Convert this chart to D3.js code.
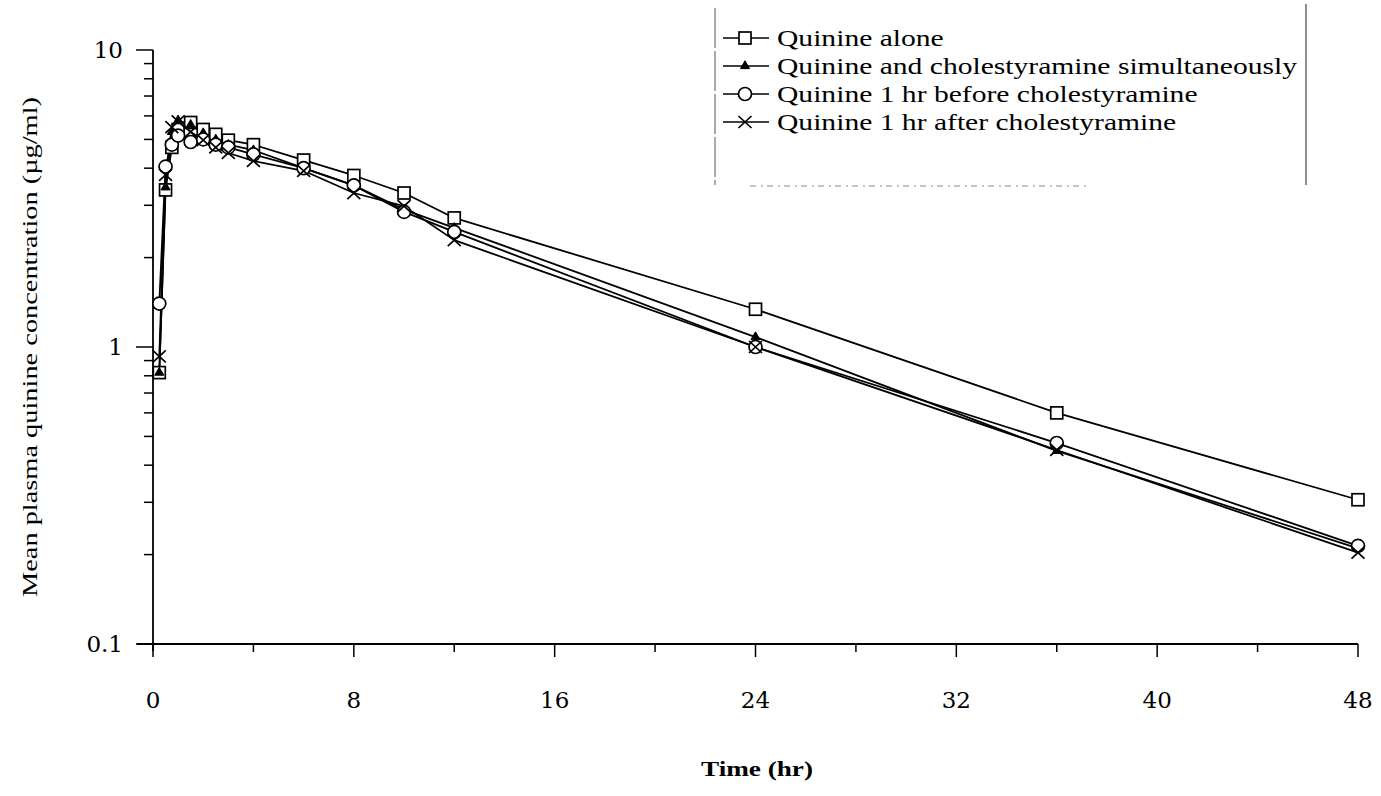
<!DOCTYPE html>
<head>
<meta charset="utf-8">
<style>
body { margin: 0; background: #fff; }
.line { fill: none; stroke: #000; stroke-width: 1.8px; stroke-linejoin: round; }
</style>
<script src="https://cdn.jsdelivr.net/npm/d3@7"></script>
</head>
<body>
<svg class="chart" width="1381" height="796"></svg>
<script>

// Sampling times (hr)
var times = [0.25, 0.5, 0.75, 1, 1.5, 2, 2.5, 3, 4, 6, 8, 10, 12, 24, 36, 48];

// Mean plasma quinine concentration (ug/ml), one array per regimen
var quinineAlone   = [0.82, 3.38, 4.7, 5.4, 5.7, 5.4, 5.2, 4.97, 4.8, 4.26, 3.78, 3.3, 2.72, 1.34, 0.6, 0.306];
var simultaneous   = [0.82, 3.45, 5.3, 5.8, 5.6, 5.25, 5.0, 4.8, 4.6, 4.0, 3.5, 2.9, 2.52, 1.08, 0.447, 0.21];
var beforeCholest  = [1.4, 4.05, 4.8, 5.15, 4.9, 5.0, 4.8, 4.7, 4.45, 4.0, 3.5, 2.85, 2.44, 1.0, 0.475, 0.214];
var afterCholest   = [0.93, 3.8, 5.5, 5.75, 5.3, 4.97, 4.7, 4.5, 4.23, 3.92, 3.3, 2.98, 2.29, 1.0, 0.45, 0.203];

var seriesNames = [
  "Quinine alone",
  "Quinine and cholestyramine simultaneously",
  "Quinine 1 hr before cholestyramine",
  "Quinine 1 hr after cholestyramine"
];
var seriesMarkers = ["square", "triangle", "circle", "cross"];
var seriesValues = [quinineAlone, simultaneous, beforeCholest, afterCholest];

var xTicks = [0, 8, 16, 24, 32, 40, 48];
var xMinorTicks = [4, 12, 20, 28, 36, 44];
var yTicks = [0.1, 1, 10];
var yTickLabels = ["0.1", "1", "10"];

var tickFont = "'DejaVu Serif', serif";
var textFont = "'Liberation Serif', 'Times New Roman', serif";

/**
 * Draw one marker of the given kind at (cx, cy).
 */
function drawMarker(g, kind, cx, cy) {
  if (kind == "square") {
    g.append("rect").attr("x", cx - 6).attr("y", cy - 6).attr("width", 12).attr("height", 12)
      .attr("fill", "#fff").attr("stroke", "#000").attr("stroke-width", 1.7);
  } else if (kind == "circle") {
    g.append("circle").attr("cx", cx).attr("cy", cy).attr("r", 6.5)
      .attr("fill", "#fff").attr("stroke", "#000").attr("stroke-width", 1.7);
  } else if (kind == "triangle") {
    g.append("path").attr("d", d3.symbol().type(d3.symbolTriangle).size(36)())
      .attr("transform", "translate(" + cx + "," + cy + ")")
      .attr("fill", "#000").attr("stroke", "#000").attr("stroke-width", 1);
  } else {
    g.append("path").attr("d", "M-6.5,-6L6.5,6M-6.5,6L6.5,-6")
      .attr("transform", "translate(" + cx + "," + cy + ")")
      .attr("stroke", "#000").attr("stroke-width", 1.7);
  }
}

var svg = d3.select(".chart");
var x = d3.scaleLinear().domain([0, 48]).range([153, 1358]);
var y = d3.scaleLog().domain([0.1, 10]).range([644, 50]);

// Horizontal axis: line, ticks below, labels further down.
svg.append("line").attr("x1", 137).attr("x2", 1358).attr("y1", y(0.1)).attr("y2", y(0.1))
  .attr("stroke", "#000").attr("stroke-width", 1.8);
svg.selectAll(".xmaj").data(xTicks).enter().append("line")
  .attr("x1", function(d) { return x(d); }).attr("x2", function(d) { return x(d); })
  .attr("y1", y(0.1)).attr("y2", y(0.1) + 13)
  .attr("stroke", "#000").attr("stroke-width", 1.5);
svg.selectAll(".xmin").data(xMinorTicks).enter().append("line")
  .attr("x1", function(d) { return x(d); }).attr("x2", function(d) { return x(d); })
  .attr("y1", y(0.1)).attr("y2", y(0.1) + 8)
  .attr("stroke", "#000").attr("stroke-width", 1.5);
svg.selectAll(".xlab").data(xTicks).enter().append("text")
  .attr("font-family", tickFont).attr("font-size", 23)
  .attr("x", function(d) { return x(d); }).attr("y", 708)
  .attr("text-anchor", "middle").text(function(d) { return d; });

// Vertical axis: log scale with minor ticks inside each decade.
svg.append("line").attr("x1", x(0)).attr("x2", x(0)).attr("y1", y(10)).attr("y2", y(0.1) + 7)
  .attr("stroke", "#000").attr("stroke-width", 1.8);
var yMinor = [];
[0.1, 1].forEach(function(base) {
  for (var k = 2; k <= 9; k++) yMinor.push(base * k);
});
svg.selectAll(".ymin").data(yMinor).enter().append("line")
  .attr("x1", x(0) - 9).attr("x2", x(0))
  .attr("y1", function(d) { return y(d); }).attr("y2", function(d) { return y(d); })
  .attr("stroke", "#000").attr("stroke-width", 1.5);
svg.selectAll(".ymaj").data(yTicks).enter().append("line")
  .attr("x1", x(0) - 17).attr("x2", x(0))
  .attr("y1", function(d) { return y(d); }).attr("y2", function(d) { return y(d); })
  .attr("stroke", "#000").attr("stroke-width", 1.5);
svg.selectAll(".ylab").data(yTicks).enter().append("text")
  .attr("font-family", tickFont).attr("font-size", 23)
  .attr("x", 123).attr("y", function(d) { return y(d) + 8; })
  .attr("text-anchor", "end").text(function(d, i) { return yTickLabels[i]; });

// Axis captions, widened like the printed original.
svg.append("text").attr("font-family", textFont)
  .attr("transform", "translate(37," + 347 + ") rotate(-90)")
  .attr("text-anchor", "middle").attr("font-size", 22)
  .attr("textLength", 500).attr("lengthAdjust", "spacingAndGlyphs")
  .text("Mean  plasma quinine concentration (\u00b5g/ml)");
svg.append("text").attr("font-family", textFont)
  .attr("x", 757).attr("y", 776).attr("text-anchor", "middle")
  .attr("font-size", 20).attr("font-weight", "bold")
  .attr("textLength", 112).attr("lengthAdjust", "spacingAndGlyphs")
  .text("Time  (hr)");

// The four curves with their markers.
var line = d3.line()
  .x(function(d) { return x(d[0]); })
  .y(function(d) { return y(d[1]); });
seriesValues.forEach(function(vals, s) {
  var pts = times.map(function(t, i) { return [t, vals[i]]; });
  svg.append("path").datum(pts).attr("class", "line").attr("d", line);
});
seriesValues.forEach(function(vals, s) {
  var g = svg.append("g");
  times.forEach(function(t, i) { drawMarker(g, seriesMarkers[s], x(t), y(vals[i])); });
});

// Legend, with its thin box edges.
var legend = svg.append("g");
legend.append("line").attr("x1", 715).attr("x2", 715).attr("y1", 8).attr("y2", 185)
  .attr("stroke", "#555").attr("stroke-width", 1).attr("stroke-dasharray", "40,3");
legend.append("line").attr("x1", 1306).attr("x2", 1306).attr("y1", 4).attr("y2", 185)
  .attr("stroke", "#444").attr("stroke-width", 1.2);
legend.append("line").attr("x1", 750).attr("x2", 1090).attr("y1", 186).attr("y2", 186)
  .attr("stroke", "#888").attr("stroke-width", 1).attr("stroke-dasharray", "6,5,2,4");
var labels = seriesNames.map(function(name, i) {
  var ly = 38 + i * 28;
  legend.append("line").attr("x1", 723).attr("x2", 769).attr("y1", ly).attr("y2", ly)
    .attr("stroke", "#000").attr("stroke-width", 1.7);
  drawMarker(legend, seriesMarkers[i], 745, ly);
  return legend.append("text").attr("font-family", textFont)
    .attr("x", 777).attr("y", ly + 8).attr("font-size", 24).text(name);
});
// Widen all legend texts by the same factor so the longest one ends at the box edge.
var longest = labels[1].node().getComputedTextLength();
var stretch = (1297 - 777) / longest;
labels.forEach(function(t) {
  t.attr("textLength", t.node().getComputedTextLength() * stretch).attr("lengthAdjust", "spacingAndGlyphs");
});

</script>
</body>
